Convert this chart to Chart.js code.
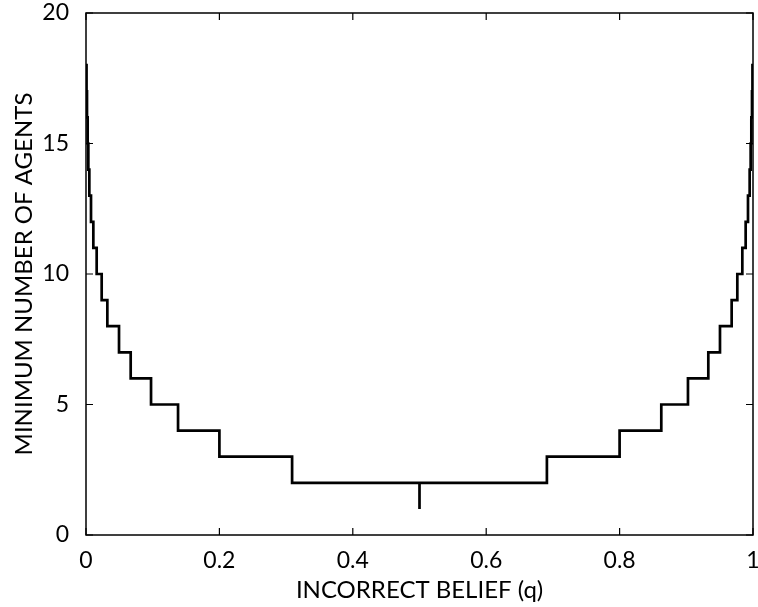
<!DOCTYPE html>
<html>
<head>
<meta charset="utf-8">
<script src="https://cdn.jsdelivr.net/npm/chart.js@4.4.1/dist/chart.umd.min.js"></script>
<style>
  html, body { margin: 0; padding: 0; background: #fff; }
  #wrap { width: 758px; height: 607px; position: relative; }
</style>
</head>
<body>
<div id="wrap"><canvas id="c"></canvas></div>
<script>
// Step start positions (q) and the minimum number of agents held from each start
const stepQ = [0, 0.0008, 0.0015, 0.0025, 0.0035, 0.005, 0.0075, 0.011, 0.016, 0.0235, 0.032, 0.0495, 0.067, 0.0975, 0.138, 0.2, 0.309,
               0.5, 0.5,
               0.691, 0.8, 0.8625, 0.9025, 0.933, 0.9505, 0.968, 0.9765, 0.984, 0.989, 0.9925, 0.995, 0.9965, 0.9975, 0.9985, 0.9992, 1.0];
const stepN = [18, 17, 16, 15, 14, 13, 12, 11, 10, 9, 8, 7, 6, 5, 4, 3, 2,
               1, 2,
               3, 4, 5, 6, 7, 8, 9, 10, 11, 12, 13, 14, 15, 16, 17, 18, 18];
const xTicks = [0, 0.2, 0.4, 0.6, 0.8, 1];
const yTicks = [0, 5, 10, 15, 20];
const xTitle = 'INCORRECT BELIEF (q)';
const yTitle = 'MINIMUM NUMBER OF AGENTS';

const points = stepQ.map((q, i) => ({ x: q, y: stepN[i] }));
const FONT = 'Lato, "Open Sans", sans-serif';

const framePlugin = {
  id: 'frame',
  afterDraw(chart) {
    const { ctx, chartArea: a, scales } = chart;
    ctx.save();
    ctx.strokeStyle = '#000';
    ctx.lineWidth = 1.5;
    ctx.strokeRect(a.left, a.top, a.right - a.left, a.bottom - a.top);
    ctx.lineWidth = 1.2;
    const L = 7;
    xTicks.forEach(v => {
      const px = scales.x.getPixelForValue(v);
      ctx.beginPath();
      ctx.moveTo(px, a.bottom); ctx.lineTo(px, a.bottom - L);
      ctx.moveTo(px, a.top); ctx.lineTo(px, a.top + L);
      ctx.stroke();
    });
    yTicks.forEach(v => {
      const py = scales.y.getPixelForValue(v);
      ctx.beginPath();
      ctx.moveTo(a.left, py); ctx.lineTo(a.left + L, py);
      ctx.moveTo(a.right, py); ctx.lineTo(a.right - L, py);
      ctx.stroke();
    });
    ctx.restore();
  }
};

new Chart(document.getElementById('c'), {
  type: 'line',
  data: {
    datasets: [{
      data: points,
      borderColor: '#000',
      borderWidth: 2.7,
      pointRadius: 0,
      stepped: 'before',
      fill: false
    }]
  },
  options: {
    responsive: true,
    maintainAspectRatio: false,
    animation: false,
    layout: { padding: { top: 13, right: 5, left: 0, bottom: 0 } },
    plugins: { legend: { display: false }, tooltip: { enabled: false } },
    scales: {
      x: {
        type: 'linear',
        min: 0, max: 1,
        afterBuildTicks: s => { s.ticks = xTicks.map(v => ({ value: v })); },
        afterFit: s => { s.height = 72; s.paddingLeft = 0; s.paddingRight = 0; },
        grid: { display: false },
        border: { display: false },
        ticks: {
          color: '#000',
          font: { family: FONT, size: 23 },
          padding: 4,
          maxRotation: 0,
          callback: v => String(v)
        },
        title: {
          display: true,
          text: xTitle,
          color: '#000',
          font: { family: FONT, size: 24 },
          padding: { top: 0, bottom: 2 }
        }
      },
      y: {
        type: 'linear',
        min: 0, max: 20,
        afterBuildTicks: s => { s.ticks = yTicks.map(v => ({ value: v })); },
        afterFit: s => { s.width = 86; s.paddingTop = 0; s.paddingBottom = 0; },
        grid: { display: false },
        border: { display: false },
        ticks: {
          color: '#000',
          font: { family: FONT, size: 23 },
          padding: 9,
          callback: v => String(v)
        },
        title: {
          display: true,
          text: yTitle,
          color: '#000',
          font: { family: FONT, size: 24 },
          padding: { top: 10, bottom: 0 }
        }
      }
    }
  },
  plugins: [framePlugin]
});
</script>
</body>
</html>
